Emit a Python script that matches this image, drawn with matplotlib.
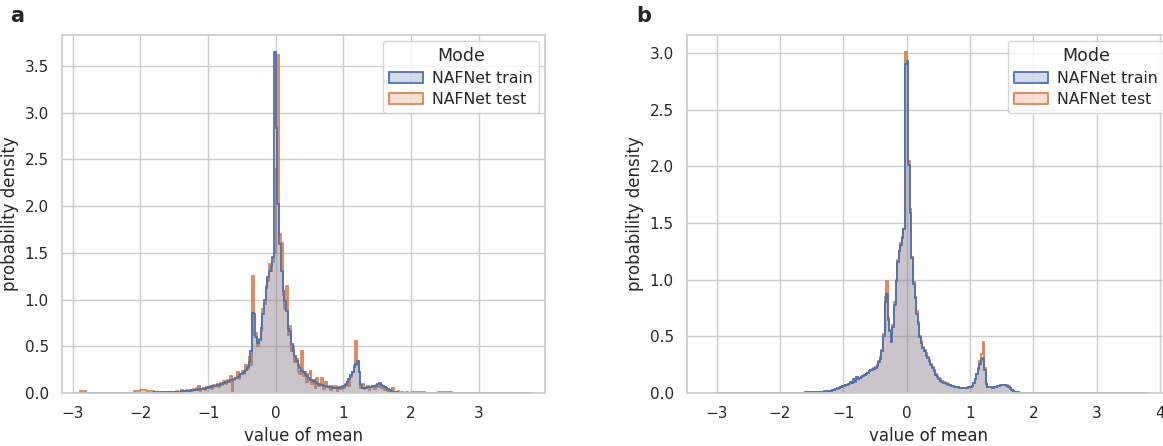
import numpy as np
import matplotlib
matplotlib.use("Agg")
import matplotlib.pyplot as plt
import seaborn as sns
from matplotlib.patches import Patch

sns.set_theme(style="whitegrid")
plt.rcParams['font.family'] = ['DejaVu Sans']

# bin edges: coarse tails, fine centre
edges = np.concatenate([np.linspace(-3.0, -1.5, 16)[:-1],
                        np.linspace(-1.5, 2.0, 141)[:-1],
                        np.linspace(2.0, 3.8, 19)])

# ---- panel a: densities (left tail 15, centre 140, right tail 18) ----
a_train_left = [0, 0, 0, 0.002, 0.005, 0.002, 0.001, 0.002, 0.003, 0.003,
                0.004, 0.005, 0.006, 0.008, 0.01]
a_train_mid = [
    0.012, 0.01, 0.015, 0.012, 0.018, 0.015, 0.02, 0.018, 0.022, 0.025,
    0.028, 0.03, 0.032, 0.035, 0.038, 0.04, 0.042, 0.045, 0.05, 0.055,
    0.06, 0.065, 0.07, 0.075, 0.08, 0.085, 0.09, 0.1, 0.095, 0.11,
    0.12, 0.115, 0.13, 0.14, 0.135, 0.15, 0.16, 0.17, 0.18, 0.2,
    0.21, 0.23, 0.25, 0.28, 0.33, 0.45, 0.86, 0.84, 0.6, 0.54,
    0.57, 0.7, 0.84, 1.0, 1.12, 1.24, 1.3, 1.36, 1.45, 3.65,
    2.84, 2.02, 1.59, 1.3, 1.09, 0.98, 0.88, 0.68, 0.66, 0.52,
    0.45, 0.4, 0.34, 0.3, 0.27, 0.24, 0.22, 0.2, 0.18, 0.16,
    0.14, 0.14, 0.13, 0.12, 0.11, 0.1, 0.09, 0.085, 0.08, 0.07,
    0.065, 0.06, 0.06, 0.055, 0.05, 0.05, 0.055, 0.05, 0.06, 0.06,
    0.08, 0.09, 0.12, 0.15, 0.19, 0.23, 0.28, 0.31, 0.34, 0.22,
    0.09, 0.05, 0.05, 0.055, 0.06, 0.06, 0.065, 0.07, 0.07, 0.08,
    0.1, 0.11, 0.09, 0.07, 0.06, 0.05, 0.04, 0.03, 0.02, 0.012,
    0.008, 0.006, 0.005, 0.004, 0.004, 0.003, 0.003, 0.002, 0.002, 0.002]
a_train_right = [0.002, 0.001, 0.001, 0.001, 0.0005, 0, 0, 0, 0, 0,
                 0, 0, 0, 0, 0, 0, 0, 0.0005]

a_test_left = [0, 0.02, 0, 0, 0, 0, 0, 0, 0, 0.02,
               0.03, 0.02, 0, 0.01, 0.012]
a_test_mid = [
    0.0, 0.02, 0.0, 0.015, 0.03, 0.01, 0.02, 0.035, 0.01, 0.03,
    0.02, 0.045, 0.03, 0.05, 0.075, 0.02, 0.04, 0.05, 0.03, 0.06,
    0.05, 0.08, 0.04, 0.09, 0.07, 0.1, 0.06, 0.11, 0.09, 0.13,
    0.1, 0.14, 0.12, 0.18, 0.02, 0.14, 0.16, 0.22, 0.15, 0.2,
    0.24, 0.2, 0.3, 0.26, 0.38, 0.3, 1.25, 0.62, 0.64, 0.5,
    0.58, 0.66, 0.9, 0.95, 1.15, 1.2, 1.38, 1.3, 1.4, 1.5,
    2.4, 3.62, 1.7, 1.6, 1.05, 0.9, 1.15, 0.62, 0.72, 0.45,
    0.5, 0.33, 0.36, 0.24, 0.2, 0.45, 0.18, 0.22, 0.12, 0.2,
    0.24, 0.1, 0.14, 0.05, 0.16, 0.08, 0.1, 0.16, 0.04, 0.12,
    0.06, 0.08, 0.03, 0.07, 0.05, 0.08, 0.02, 0.06, 0.04, 0.08,
    0.05, 0.1, 0.12, 0.08, 0.17, 0.22, 0.3, 0.56, 0.3, 0.22,
    0.05, 0.1, 0.04, 0.06, 0.08, 0.03, 0.06, 0.07, 0.04, 0.09,
    0.06, 0.1, 0.05, 0.07, 0.03, 0.05, 0.02, 0.01, 0.0, 0.05,
    0.01, 0.0, 0.02, 0.0, 0.015, 0.0, 0.0, 0.01, 0.0, 0.0]
a_test_right = [0.008, 0.015, 0.004, 0.0, 0.015, 0.01, 0, 0, 0, 0,
                0, 0, 0, 0, 0, 0, 0, 0]

# ---- panel b ----
b_train_left = [0.001, 0.001, 0.001, 0.001, 0.001, 0.001, 0.001, 0.001, 0.001, 0.002,
                0.002, 0.002, 0.003, 0.004, 0.005]
b_train_mid = [
    0.006, 0.007, 0.008, 0.008, 0.009, 0.01, 0.011, 0.012, 0.014, 0.015,
    0.017, 0.019, 0.021, 0.024, 0.028, 0.032, 0.04, 0.045, 0.05, 0.06,
    0.065, 0.07, 0.075, 0.08, 0.1, 0.09, 0.12, 0.1, 0.14, 0.12,
    0.13, 0.14, 0.15, 0.16, 0.17, 0.18, 0.19, 0.2, 0.2, 0.21,
    0.22, 0.24, 0.27, 0.3, 0.37, 0.5, 0.8, 0.87, 0.64, 0.55,
    0.45, 0.58, 0.78, 0.99, 1.16, 1.25, 1.31, 1.37, 1.45, 2.9,
    2.93, 2.01, 1.59, 1.19, 0.96, 0.84, 0.7, 0.61, 0.49, 0.44,
    0.4, 0.37, 0.33, 0.31, 0.28, 0.25, 0.22, 0.19, 0.16, 0.14,
    0.12, 0.11, 0.1, 0.09, 0.09, 0.08, 0.07, 0.07, 0.06, 0.06,
    0.055, 0.05, 0.05, 0.045, 0.045, 0.04, 0.045, 0.04, 0.045, 0.05,
    0.055, 0.06, 0.09, 0.12, 0.17, 0.21, 0.26, 0.3, 0.31, 0.2,
    0.08, 0.05, 0.05, 0.05, 0.045, 0.05, 0.055, 0.06, 0.065, 0.07,
    0.075, 0.075, 0.07, 0.065, 0.05, 0.04, 0.025, 0.015, 0.008, 0.006,
    0.005, 0.004, 0.004, 0.003, 0.003, 0.003, 0.002, 0.002, 0.002, 0.002]
b_train_right = [0.002, 0.0015, 0.001, 0.001, 0.0008, 0.0005, 0.0005, 0.0003, 0.0003, 0.0002,
                 0, 0, 0, 0, 0, 0, 0, 0]

b_test_left = [0.001, 0.002, 0.001, 0.001, 0.001, 0.001, 0.001, 0.001, 0.001, 0.002,
               0.002, 0.002, 0.003, 0.004, 0.005]
b_test_mid = [
    0.005, 0.006, 0.008, 0.009, 0.009, 0.011, 0.011, 0.013, 0.013, 0.016,
    0.017, 0.02, 0.022, 0.025, 0.027, 0.033, 0.038, 0.045, 0.05, 0.058,
    0.063, 0.068, 0.075, 0.08, 0.09, 0.092, 0.1, 0.105, 0.12, 0.125,
    0.13, 0.14, 0.15, 0.16, 0.17, 0.18, 0.19, 0.2, 0.21, 0.22,
    0.23, 0.25, 0.28, 0.32, 0.38, 0.52, 0.85, 0.99, 0.66, 0.56,
    0.47, 0.6, 0.8, 1.0, 1.17, 1.25, 1.32, 1.38, 1.45, 3.01,
    2.9, 2.05, 1.62, 1.2, 0.98, 0.85, 0.72, 0.63, 0.5, 0.46,
    0.41, 0.38, 0.35, 0.32, 0.29, 0.26, 0.23, 0.2, 0.17, 0.15,
    0.13, 0.12, 0.11, 0.1, 0.09, 0.085, 0.08, 0.07, 0.065, 0.06,
    0.055, 0.05, 0.05, 0.045, 0.045, 0.04, 0.045, 0.045, 0.045, 0.05,
    0.05, 0.06, 0.09, 0.12, 0.17, 0.22, 0.28, 0.34, 0.45, 0.22,
    0.08, 0.05, 0.05, 0.05, 0.05, 0.05, 0.055, 0.06, 0.065, 0.07,
    0.075, 0.075, 0.075, 0.07, 0.06, 0.045, 0.03, 0.015, 0.008, 0.006,
    0.005, 0.004, 0.004, 0.003, 0.003, 0.003, 0.002, 0.002, 0.002, 0.002]
b_test_right = [0.002, 0.0015, 0.001, 0.001, 0.0008, 0.0005, 0.0005, 0.0003, 0.0003, 0.0002,
                0, 0, 0, 0, 0, 0, 0, 0]

labels = ["NAFNet train", "NAFNet test"]
colors = sns.color_palette("deep")[:2]

fig = plt.figure(figsize=(11.63, 4.46), dpi=100)
ax_a = fig.add_axes([62 / 1163, 53 / 446, 483 / 1163, 358 / 446])
ax_b = fig.add_axes([687 / 1163, 53 / 446, 483 / 1163, 358 / 446])

panels = [
    (ax_a, a_train_left + a_train_mid + a_train_right,
     a_test_left + a_test_mid + a_test_right, (-3.16, 3.98), 3.83, 'a', 10, range(-3, 4)),
    (ax_b, b_train_left + b_train_mid + b_train_right,
     b_test_left + b_test_mid + b_test_right, (-3.47, 4.16), 3.16, 'b', 636, range(-3, 5)),
]

for ax, train, test, xlim, ytop, letter, lx, xt in panels:
    # test first so that train sits on top, like seaborn's hue order
    for vals, col in [(test, colors[1]), (train, colors[0])]:
        ax.stairs(vals, edges, fill=True, color=col, alpha=0.25, lw=0)
        ax.stairs(vals, edges, fill=False, color=col, lw=1.3)
    ax.set_xlim(*xlim)
    ax.set_ylim(0, ytop)
    ax.set_xticks(list(xt))
    ax.set_xlabel("value of mean")
    ax.set_ylabel("probability density")
    handles = [Patch(facecolor=(*c, 0.25), edgecolor=c, lw=1.3) for c in colors]
    ax.legend(handles, labels, title="Mode", loc="upper right",
              fontsize=11.3, title_fontsize=12.5, labelspacing=0.4,
              handlelength=2.2, handletextpad=0.6, borderpad=0.35,
              borderaxespad=0.4)
    fig.text(lx / 1163, 1 - 16 / 446, letter, fontsize=15, fontweight='bold',
             va='center', ha='left')

fig.savefig("out.png", dpi=100)
